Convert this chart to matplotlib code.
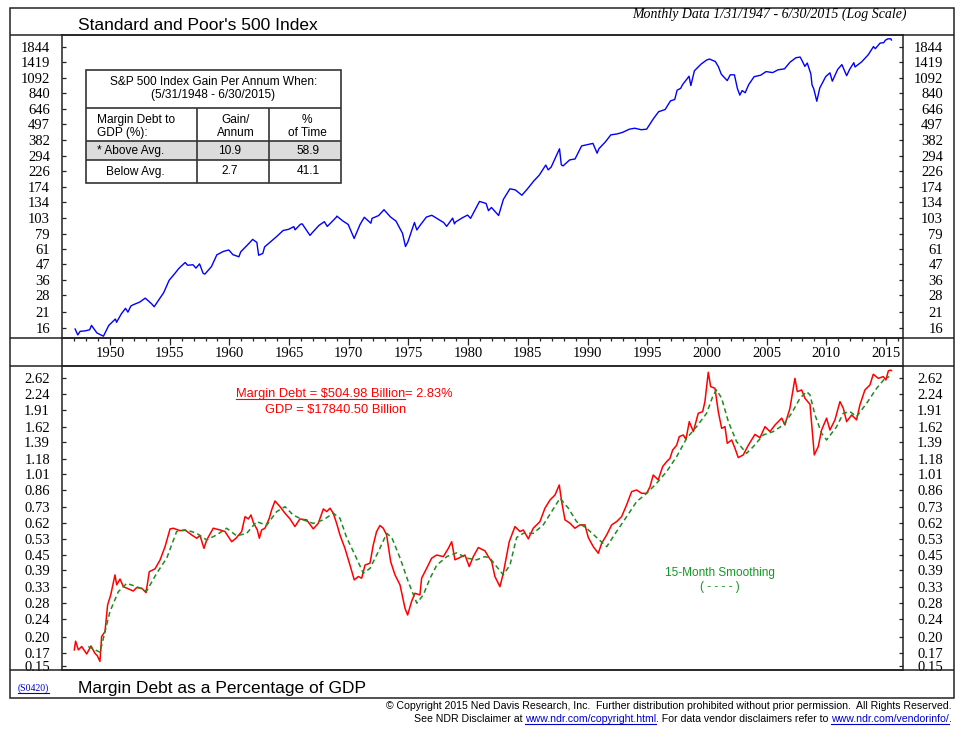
import matplotlib
matplotlib.use("Agg")
import matplotlib.pyplot as plt
from matplotlib.patches import Rectangle

SANS = "Liberation Sans"
SERIF = "Liberation Serif"
plt.rcParams["font.family"] = SERIF

# ---- S&P 500 monthly close (log scale panel) ----
sp_year = [1947.08, 1947.3, 1947.5, 1947.9, 1948.3, 1948.45, 1948.9, 1949.45, 1949.9,
           1950.45, 1950.55, 1950.95, 1951.3, 1951.5, 1951.75, 1951.95, 1952.5, 1952.95,
           1953.5, 1953.7, 1953.95, 1954.5, 1954.95, 1955.5, 1955.75, 1955.95, 1956.3,
           1956.5, 1956.95, 1957.2, 1957.5, 1957.8, 1957.95, 1958.5, 1958.95, 1959.5,
           1959.95, 1960.3, 1960.8, 1960.95, 1961.5, 1961.95, 1962.3, 1962.45, 1962.8,
           1962.95, 1963.5, 1963.95, 1964.5, 1964.95, 1965.4, 1965.5, 1965.95, 1966.1,
           1966.75, 1966.95, 1967.5, 1967.95, 1968.2, 1968.95, 1969.0, 1969.5, 1969.95,
           1970.45, 1970.95, 1971.3, 1971.85, 1971.95, 1972.5, 1972.95, 1973.5, 1973.95,
           1974.5, 1974.75, 1974.95, 1975.5, 1975.7, 1975.95, 1976.5, 1976.95, 1977.5,
           1977.95, 1978.2, 1978.7, 1978.85, 1978.95, 1979.5, 1979.95, 1980.2, 1980.95,
           1981.5, 1981.7, 1981.95, 1982.55, 1982.95, 1983.5, 1983.95, 1984.5, 1984.95,
           1985.5, 1985.95, 1986.5, 1986.7, 1986.95, 1987.65, 1987.8, 1987.95, 1988.5,
           1988.95, 1989.5, 1989.95, 1990.45, 1990.8, 1990.95, 1991.5, 1991.95, 1992.5,
           1992.95, 1993.5, 1993.95, 1994.5, 1994.95, 1995.5, 1995.95, 1996.5, 1996.95,
           1997.3, 1997.5, 1997.8, 1997.95, 1998.5, 1998.65, 1998.95, 1999.5, 1999.95,
           2000.2, 2000.7, 2000.95, 2001.2, 2001.7, 2001.95, 2002.3, 2002.55, 2002.75,
           2002.95, 2003.2, 2003.5, 2003.95, 2004.5, 2004.95, 2005.5, 2005.95, 2006.5,
           2006.95, 2007.45, 2007.8, 2007.95, 2008.2, 2008.4, 2008.7, 2008.8, 2008.95,
           2009.2, 2009.45, 2009.95, 2010.3, 2010.5, 2010.95, 2011.3, 2011.7, 2011.95,
           2012.3, 2012.4, 2012.95, 2013.5, 2013.95, 2014.1, 2014.5, 2014.8, 2014.95,
           2015.15, 2015.4, 2015.45]
sp_close = [15.8, 14.3, 15.2, 15.3, 15.6, 16.8, 14.8, 14.0, 16.8,
            18.7, 17.7, 20.4, 22.4, 21.0, 23.3, 23.8, 24.9, 26.6,
            24.1, 23.0, 24.8, 29.2, 35.9, 41.0, 43.7, 45.5, 48.5,
            46.3, 46.7, 44.1, 47.4, 40.4, 39.9, 45.3, 55.2, 58.5,
            59.9, 55.3, 53.4, 58.1, 65.0, 71.6, 68.0, 54.8, 56.5,
            63.1, 69.4, 75.0, 83.2, 84.8, 88.7, 84.1, 92.4, 93.0,
            76.6, 80.3, 90.6, 96.5, 89.1, 103.9, 106.0, 97.7, 92.1,
            72.7, 92.2, 104.0, 94.0, 102.1, 107.0, 118.1, 104.3, 97.6,
            79.3, 63.5, 68.6, 95.2, 83.9, 90.2, 104.3, 107.5, 100.5,
            95.1, 89.2, 102.5, 93.0, 96.1, 102.9, 107.9, 102.1, 135.8,
            131.2, 116.2, 122.6, 107.1, 140.6, 168.1, 164.9, 150.7, 167.2,
            191.9, 211.3, 250.8, 231.3, 242.2, 329.8, 251.8, 247.1, 273.5,
            277.7, 346.1, 353.4, 361.2, 306.1, 330.2, 371.2, 417.1, 424.2,
            435.7, 458.9, 466.5, 454.8, 459.3, 545.2, 615.9, 639.9, 740.7,
            757.0, 885.1, 914.6, 970.4, 1120.7, 957.3, 1229.2, 1372.7, 1469.3,
            1498.6, 1436.5, 1320.3, 1160.3, 1040.9, 1148.1, 1147.4, 911.6, 815.3,
            880.0, 848.2, 974.5, 1111.9, 1140.8, 1211.9, 1191.3, 1248.3, 1270.2,
            1418.3, 1530.6, 1549.4, 1468.4, 1322.7, 1400.4, 1166.4, 968.8, 903.3,
            735.1, 919.3, 1115.1, 1186.7, 1030.7, 1257.6, 1363.6, 1131.4, 1257.6,
            1408.5, 1310.3, 1426.2, 1606.3, 1848.4, 1782.6, 1960.2, 1972.0, 2058.9,
            2104.5, 2107.4, 2063.1]

# ---- Margin debt as % of GDP ----
md_year = [1947.01, 1947.12, 1947.35, 1947.63, 1948.05, 1948.41, 1948.74, 1948.94, 1949.16,
           1949.30, 1949.58, 1949.80, 1950.06, 1950.42, 1950.56, 1950.84, 1951.12, 1951.54,
           1951.95, 1952.23, 1952.65, 1953.02, 1953.29, 1953.77, 1954.19, 1954.61, 1955.03,
           1955.30, 1955.86, 1956.28, 1956.84, 1957.26, 1957.54, 1957.87, 1958.10, 1958.65,
           1959.21, 1959.63, 1960.19, 1960.55, 1961.03, 1961.31, 1961.59, 1961.81, 1962.00,
           1962.34, 1962.51, 1962.70, 1962.98, 1963.34, 1963.54, 1963.82, 1964.24, 1964.66,
           1965.08, 1965.49, 1965.91, 1966.47, 1967.03, 1967.45, 1967.87, 1968.15, 1968.43,
           1968.70, 1968.98, 1969.26, 1969.68, 1970.10, 1970.46, 1970.80, 1971.08, 1971.36,
           1971.78, 1972.05, 1972.33, 1972.61, 1972.89, 1973.17, 1973.51, 1973.87, 1974.29,
           1974.71, 1974.93, 1975.26, 1975.54, 1975.96, 1976.10, 1976.52, 1976.94, 1977.36,
           1977.92, 1978.34, 1978.62, 1978.89, 1979.31, 1979.73, 1980.09, 1980.43, 1980.85,
           1981.41, 1981.69, 1981.97, 1982.24, 1982.66, 1982.94, 1983.44, 1983.92, 1984.34,
           1984.62, 1985.04, 1985.45, 1986.01, 1986.43, 1986.85, 1987.27, 1987.63, 1987.83,
           1988.11, 1988.53, 1988.94, 1989.36, 1989.78, 1990.06, 1990.48, 1990.90, 1991.18,
           1991.60, 1992.02, 1992.43, 1992.85, 1993.27, 1993.69, 1994.11, 1994.53, 1994.95,
           1995.23, 1995.50, 1995.92, 1996.29, 1996.62, 1996.90, 1997.13, 1997.46, 1997.68,
           1998.02, 1998.24, 1998.52, 1998.86, 1999.27, 1999.64, 1999.83, 2000.11, 2000.31,
           2000.67, 2000.95, 2001.23, 2001.51, 2001.70, 2002.07, 2002.35, 2002.62, 2003.04,
           2003.46, 2004.02, 2004.44, 2004.86, 2005.28, 2005.70, 2006.26, 2006.53, 2006.95,
           2007.37, 2007.57, 2007.93, 2008.21, 2008.63, 2008.99, 2009.32, 2009.60, 2010.02,
           2010.30, 2010.72, 2011.14, 2011.42, 2011.70, 2012.12, 2012.53, 2012.81, 2013.23,
           2013.65, 2013.93, 2014.35, 2014.77, 2014.99, 2015.19, 2015.33, 2015.45]
md_pct = [0.176, 0.192, 0.176, 0.182, 0.169, 0.183, 0.170, 0.166, 0.157,
          0.201, 0.211, 0.275, 0.304, 0.371, 0.336, 0.356, 0.330, 0.323,
          0.316, 0.327, 0.325, 0.311, 0.383, 0.394, 0.430, 0.491, 0.586,
          0.590, 0.576, 0.580, 0.552, 0.534, 0.549, 0.483, 0.525, 0.590,
          0.580, 0.571, 0.516, 0.534, 0.571, 0.662, 0.647, 0.673, 0.626,
          0.580, 0.534, 0.580, 0.590, 0.651, 0.708, 0.774, 0.731, 0.685,
          0.647, 0.600, 0.647, 0.641, 0.586, 0.620, 0.715, 0.696, 0.720,
          0.685, 0.620, 0.552, 0.483, 0.409, 0.353, 0.365, 0.359, 0.409,
          0.417, 0.500, 0.571, 0.606, 0.590, 0.552, 0.423, 0.371, 0.336,
          0.266, 0.249, 0.285, 0.309, 0.304, 0.359, 0.396, 0.438, 0.452,
          0.445, 0.483, 0.516, 0.431, 0.441, 0.452, 0.403, 0.445, 0.487,
          0.471, 0.445, 0.423, 0.365, 0.330, 0.377, 0.516, 0.600, 0.571,
          0.580, 0.531, 0.590, 0.630, 0.720, 0.781, 0.821, 0.907, 0.769,
          0.641, 0.620, 0.590, 0.610, 0.610, 0.538, 0.491, 0.460, 0.508,
          0.552, 0.610, 0.630, 0.662, 0.744, 0.849, 0.863, 0.835, 0.835,
          0.892, 1.002, 0.954, 1.089, 1.144, 1.182, 1.285, 1.346, 1.467,
          1.492, 1.427, 1.703, 1.542, 1.850, 1.881, 2.078, 2.781, 2.412,
          2.372, 1.881, 1.593, 1.620, 1.373, 1.419, 1.306, 1.191, 1.223,
          1.346, 1.500, 1.451, 1.620, 1.542, 1.647, 1.763, 1.647, 1.945,
          2.620, 2.295, 2.333, 2.148, 2.023, 1.223, 1.328, 1.567, 1.763,
          1.567, 1.733, 2.078, 1.945, 1.703, 1.820, 1.733, 2.010, 2.333,
          2.452, 2.727, 2.620, 2.664, 2.577, 2.818, 2.840, 2.830]

# ---- 15-month smoothing ----
sm_year = [1948.18, 1949.16, 1950.00, 1950.70, 1951.40, 1952.23, 1953.07, 1953.91, 1954.75,
           1955.58, 1956.42, 1957.26, 1958.10, 1958.93, 1959.77, 1960.61, 1961.45, 1962.28,
           1963.12, 1963.96, 1964.66, 1965.35, 1966.19, 1967.03, 1967.87, 1968.70, 1969.26,
           1969.82, 1970.52, 1971.22, 1971.78, 1972.48, 1973.18, 1973.60, 1974.30, 1974.98,
           1975.70, 1976.24, 1976.81, 1977.37, 1978.21, 1979.05, 1979.89, 1980.71, 1981.41,
           1981.83, 1982.38, 1982.94, 1983.50, 1984.06, 1984.62, 1985.45, 1986.29, 1986.99,
           1987.69, 1988.39, 1989.08, 1989.92, 1990.76, 1991.60, 1992.43, 1993.27, 1994.11,
           1994.95, 1995.78, 1996.62, 1997.46, 1998.30, 1999.13, 1999.97, 2000.53, 2000.81,
           2001.23, 2001.79, 2002.48, 2003.32, 2003.88, 2004.72, 2005.55, 2006.39, 2007.09,
           2007.79, 2008.35, 2008.63, 2009.05, 2009.60, 2010.02, 2010.86, 2011.42, 2011.98,
           2012.53, 2013.37, 2014.21, 2014.91, 2015.27]
sm_pct = [0.182, 0.172, 0.258, 0.314, 0.341, 0.330, 0.316, 0.377, 0.438,
          0.571, 0.580, 0.561, 0.525, 0.552, 0.590, 0.547, 0.561, 0.630,
          0.608, 0.696, 0.731, 0.672, 0.641, 0.619, 0.641, 0.685, 0.652,
          0.538, 0.452, 0.377, 0.396, 0.468, 0.561, 0.538, 0.438, 0.347,
          0.280, 0.304, 0.359, 0.409, 0.445, 0.462, 0.438, 0.431, 0.445,
          0.438, 0.403, 0.371, 0.409, 0.538, 0.561, 0.561, 0.610, 0.696,
          0.795, 0.720, 0.630, 0.590, 0.538, 0.491, 0.571, 0.662, 0.769,
          0.835, 0.922, 1.036, 1.202, 1.443, 1.620, 1.850, 2.220, 2.333,
          2.148, 1.703, 1.396, 1.243, 1.328, 1.492, 1.542, 1.647, 1.850,
          2.148, 2.295, 2.220, 1.820, 1.516, 1.419, 1.620, 1.850, 1.881,
          1.790, 2.043, 2.372, 2.620, 2.664]

sp_ticks = [16, 21, 28, 36, 47, 61, 79, 103, 134, 174, 226, 294, 382, 497, 646, 840, 1092, 1419, 1844]
md_ticks = [0.15, 0.17, 0.20, 0.24, 0.28, 0.33, 0.39, 0.45, 0.53, 0.62, 0.73, 0.86, 1.01,
            1.18, 1.39, 1.62, 1.91, 2.24, 2.62]
year_ticks = list(range(1950, 2016, 5))

table_title = ["S&P 500 Index Gain Per Annum When:", "(5/31/1948 - 6/30/2015)"]
col_heads = ["Margin Debt to\nGDP (%):", "Gain/\nAnnum", "%\nof Time"]
row_names = ["* Above Avg.", "Below Avg."]
gain_vals = ["10.9", "2.7"]
time_vals = ["58.9", "41.1"]

# ---- layout ----
W, H = 966, 732
fig = plt.figure(figsize=(W / 100, H / 100), dpi=100)
EDGE = "#222222"
XLIM = (1945.98, 2016.42)
SP_LIM = (13.58, 2246)
MD_LIM = (0.1441, 2.961)


def box_axes(left, top, right, bottom):
    return fig.add_axes([left / W, 1 - bottom / H, (right - left) / W, (bottom - top) / H])


def log_y(ax, ticks, lim, fmt):
    labels = [fmt.format(t) for t in ticks]
    ax.set_yscale("log")
    ax.set_ylim(*lim)
    ax.set_yticks(ticks, labels=labels)
    ax.set_yticks([], minor=True)
    ax.tick_params(axis="y", which="major", direction="in", length=3, width=0.9,
                   color=EDGE, labelsize=10.5, pad=8.6, right=False)
    tw = ax.twinx()
    tw.set_yscale("log")
    tw.set_ylim(*lim)
    tw.set_yticks(ticks, labels=labels)
    tw.set_yticks([], minor=True)
    tw.tick_params(axis="y", which="major", direction="in", length=3, width=0.9,
                   color=EDGE, labelsize=10.5, pad=28.8)
    for t in tw.yaxis.get_major_ticks():
        t.label2.set_horizontalalignment("right")
    for s in tw.spines.values():
        s.set_visible(False)
    for s in ax.spines.values():
        s.set_linewidth(1.1)
        s.set_color(EDGE)
    ax.set_xlim(*XLIM)


ax1 = box_axes(62, 35, 903, 338)
ax1.plot(sp_year, sp_close, color="#0000ff", lw=1.0)
log_y(ax1, sp_ticks, SP_LIM, "{:g}")
ax1.set_xticks(year_ticks, labels=[str(y) for y in year_ticks])
ax1.set_xticks(list(range(1947, 2017)), minor=True)
ax1.tick_params(axis="x", which="major", direction="out", length=5, width=0.9,
                color=EDGE, labelsize=10.5, pad=1.5)
ax1.tick_params(axis="x", which="minor", direction="out", length=2.5, width=0.9, color=EDGE)

ax2 = box_axes(62, 366, 903, 670)
ax2.plot(md_year, md_pct, color="#ff0000", lw=1.1, zorder=3)
ax2.plot(sm_year, sm_pct, color="#1e8c1e", lw=1.1, dashes=(3.2, 2.2), zorder=4)
log_y(ax2, md_ticks, MD_LIM, "{:.2f}")
ax2.tick_params(axis="x", which="both", bottom=False, labelbottom=False)

# ---- overlay in pixel coordinates ----
ov = fig.add_axes([0, 0, 1, 1], zorder=10)
ov.set_xlim(0, W)
ov.set_ylim(H, 0)
ov.axis("off")
ov.patch.set_alpha(0)

ov.add_patch(Rectangle((10, 8), 944, 690, fill=False, ec=EDGE, lw=1.1))
ov.hlines([35, 338, 366, 670], 10, 954, color=EDGE, lw=1.1)
ov.vlines([62, 903], 338, 366, color=EDGE, lw=1.1)

renderer = fig.canvas.get_renderer()


def run_text(x, y, parts, size, family=SANS, align="left"):
    objs = [(ov.text(x, y, s, fontsize=size, family=family, color=c,
                     va="baseline", ha="left"), u) for s, c, u in parts]
    widths = [t.get_window_extent(renderer).width for t, _ in objs]
    pos = x - sum(widths) if align == "right" else x
    for (t, und), w in zip(objs, widths):
        t.set_x(pos)
        if und:
            ov.plot([pos, pos + w], [y + 1.7, y + 1.7], color=t.get_color(), lw=0.8)
        pos += w


# header
ov.text(78, 25, "Standard and Poor's 500 Index", family=SANS, fontsize=12.5, va="center", ha="left")
ov.text(907, 18, "Monthly Data 1/31/1947 - 6/30/2015 (Log Scale)", family=SERIF,
        style="italic", fontsize=10, va="baseline", ha="right")

# table
TL, TR = 86, 341
ov.add_patch(Rectangle((TL, 70), TR - TL, 113, fc="white", ec="none", zorder=1))
ov.add_patch(Rectangle((TL, 141), TR - TL, 19, fc="#dcdcdc", ec="none", zorder=1))
ov.add_patch(Rectangle((TL, 70), TR - TL, 113, fill=False, ec="#333333", lw=1.2, zorder=3))
ov.hlines([108, 141, 160], TL, TR, color="#333333", lw=1.2, zorder=3)
ov.vlines([197, 269], 108, 183, color="#333333", lw=1.2, zorder=3)
tk = dict(family=SANS, fontsize=8.6, va="center", zorder=4)
ov.text(213.5, 82, table_title[0], ha="center", **tk)
ov.text(213.5, 95, table_title[1], ha="center", **tk)
ov.text(97, 126.5, col_heads[0], ha="left", linespacing=1.1, **tk)
ov.text(236, 126.5, col_heads[1], ha="center", linespacing=1.1, **tk)
ov.text(307, 126.5, col_heads[2], ha="center", linespacing=1.1, **tk)
ov.text(97, 151, row_names[0], ha="left", **tk)
ov.text(106, 171.5, row_names[1], ha="left", **tk)
for i, yy in enumerate([151, 171.5]):
    ov.text(230, yy, gain_vals[i], ha="center", **tk)
    ov.text(308.5, yy, time_vals[i], ha="center", **tk)

# margin debt annotation
RED = "#ff0000"
run_text(236, 397, [("Margin Debt = $504.98 Billion", RED, True), ("= 2.83%", RED, False)], 9.3)
ov.text(406, 413, "GDP = $17840.50 Billion", family=SANS, fontsize=9.3, color=RED,
        va="baseline", ha="right")

GREEN = "#119922"
ov.text(720, 573, "15-Month Smoothing", family=SANS, fontsize=8.5, color=GREEN, ha="center", va="center")
ov.text(720, 587, "( - - - - )", family=SANS, fontsize=8.5, color=GREEN, ha="center", va="center")

# bottom title strip
run_text(18, 691, [("(S0420)", "#0000cc", True)], 7, family=SERIF)
ov.text(78, 688, "Margin Debt as a Percentage of GDP", family=SANS, fontsize=12.5, va="center", ha="left")

# footer
BLUE = "#0000cc"
run_text(952, 709, [("\u00a9 Copyright 2015 Ned Davis Research, Inc.  Further distribution prohibited "
                     "without prior permission.  All Rights Reserved.", "black", False)], 7.6, align="right")
run_text(952, 722, [("See NDR Disclaimer at ", "black", False),
                    ("www.ndr.com/copyright.html", BLUE, True),
                    (". For data vendor disclaimers refer to ", "black", False),
                    ("www.ndr.com/vendorinfo/", BLUE, True),
                    (".", "black", False)], 7.6, align="right")

fig.savefig("out.png", dpi=100, facecolor="white")
